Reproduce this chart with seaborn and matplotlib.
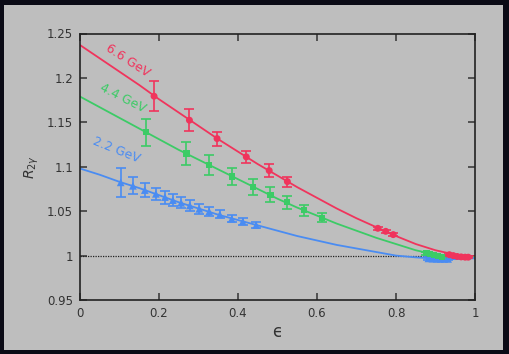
import numpy as np
import pandas as pd
import matplotlib
matplotlib.use("Agg")
import matplotlib.pyplot as plt
from matplotlib.patches import Rectangle
import seaborn as sns

# ---- data ----
eps_red = [0.1875, 0.277, 0.347, 0.421, 0.479, 0.525, 0.754, 0.774, 0.793,
           0.935, 0.945, 0.955, 0.965, 0.975, 0.983]
r_red = [1.1794, 1.1524, 1.1317, 1.1111, 1.0957, 1.0833, 1.0307, 1.0273, 1.0236,
         1.0010, 1.0000, 0.9990, 0.9985, 0.9982, 0.9982]
err_red = [0.0167, 0.0122, 0.0078, 0.0070, 0.0070, 0.0056, 0.0018, 0.0017, 0.0016,
           0.0012, 0.0012, 0.0012, 0.0012, 0.0012, 0.0012]

eps_green = [0.1664, 0.2694, 0.326, 0.384, 0.4375, 0.482, 0.5236, 0.5676, 0.612,
             0.877, 0.887, 0.897, 0.907, 0.917]
r_green = [1.1389, 1.1148, 1.1017, 1.0889, 1.0773, 1.0683, 1.0600, 1.0510, 1.0427,
           1.0025, 1.0015, 1.0005, 0.9995, 0.9988]
err_green = [0.0152, 0.0131, 0.0114, 0.0096, 0.0088, 0.0085, 0.0070, 0.0062, 0.0049,
             0.0014, 0.0014, 0.0014, 0.0014, 0.0014]

eps_blue = [0.103, 0.134, 0.164, 0.192, 0.215, 0.235, 0.256, 0.278, 0.302, 0.327,
            0.354, 0.384, 0.412, 0.446, 0.882, 0.892, 0.902, 0.912, 0.922, 0.932]
r_blue = [1.0824, 1.0785, 1.0737, 1.0695, 1.0658, 1.0624, 1.0594, 1.0564, 1.0526,
          1.0497, 1.0463, 1.0414, 1.0384, 1.0343, 0.9968, 0.9965, 0.9963, 0.9962,
          0.9962, 0.9962]
err_blue = [0.0165, 0.0095, 0.0083, 0.0064, 0.0072, 0.0065, 0.0062, 0.0058, 0.0054,
            0.0050, 0.0045, 0.0040, 0.0036, 0.0030, 0.0014, 0.0014, 0.0014, 0.0014,
            0.0014, 0.0014]

fit_eps = [0.0, 0.05, 0.1, 0.15, 0.2, 0.25, 0.3, 0.35, 0.4, 0.45, 0.5,
           0.55, 0.6, 0.65, 0.7, 0.75, 0.8, 0.85, 0.9, 0.95, 1.0]
fit_red = [1.237, 1.222, 1.207, 1.192, 1.176, 1.161, 1.146, 1.131, 1.117, 1.103, 1.090,
           1.077, 1.065, 1.053, 1.042, 1.032, 1.022, 1.013, 1.006, 1.001, 0.999]
fit_green = [1.179, 1.167, 1.155, 1.143, 1.131, 1.119, 1.108, 1.097, 1.086, 1.075, 1.064,
             1.054, 1.045, 1.036, 1.028, 1.020, 1.013, 1.006, 1.001, 0.998, 0.998]
fit_blue = [1.098, 1.091, 1.083, 1.076, 1.068, 1.060, 1.053, 1.046, 1.040, 1.034, 1.028,
            1.022, 1.017, 1.012, 1.008, 1.004, 1.000, 0.998, 0.9965, 0.996, 0.997]

labels = ["6.6 GeV", "4.4 GeV", "2.2 GeV"]
xticks = [0, 0.2, 0.4, 0.6, 0.8, 1]
xticklabels = ["0", "0.2", "0.4", "0.6", "0.8", "1"]
yticks = [0.95, 1.0, 1.05, 1.1, 1.15, 1.2, 1.25]
yticklabels = ["0.95", "1", "1.05", "1.1", "1.15", "1.2", "1.25"]

RED, GREEN, BLUE = "#f0345c", "#3ccb66", "#4a8cf2"
PANEL = "#bebebe"

sns.set_theme(style="ticks")
plt.rcParams["font.family"] = ["DejaVu Sans"]

W, H = 509, 354
fig = plt.figure(figsize=(W / 100, H / 100), dpi=100)
fig.patch.set_facecolor("#0b0b16")
fig.add_artist(Rectangle((4 / W, 1 - 350 / H), (503 - 4) / W, (350 - 5) / H,
                         transform=fig.transFigure, facecolor=PANEL,
                         edgecolor="none", zorder=0))

ax = fig.add_axes([80 / W, 54 / H, (475 - 80) / W, (300 - 33.5) / H])
ax.set_facecolor("none")

fits = pd.DataFrame({
    "eps": fit_eps * 3,
    "R": fit_red + fit_green + fit_blue,
    "beam": [labels[0]] * len(fit_eps) + [labels[1]] * len(fit_eps) + [labels[2]] * len(fit_eps),
})
sns.lineplot(data=fits, x="eps", y="R", hue="beam",
             palette={labels[0]: RED, labels[1]: GREEN, labels[2]: BLUE},
             linewidth=1.3, legend=False, ax=ax, zorder=2)

ax.axhline(1.0, color="#222222", linestyle=(0, (1, 1)), linewidth=0.9, zorder=1)

series = [
    (eps_blue, r_blue, err_blue, BLUE, "^", 5.5),
    (eps_green, r_green, err_green, GREEN, "s", 4.5),
    (eps_red, r_red, err_red, RED, "o", 5.0),
]
for ex, ry, er, c, m, ms in series:
    ax.errorbar(ex, ry, yerr=er, fmt="none", ecolor=c, elinewidth=1.2,
                capsize=3.5, capthick=1.2, zorder=3)
    df = pd.DataFrame({"eps": ex, "R": ry})
    sns.scatterplot(data=df, x="eps", y="R", color=c, marker=m, s=ms ** 2,
                    edgecolor="none", ax=ax, zorder=4)

ax.set_xlim(0, 1)
ax.set_ylim(0.95, 1.25)
ax.set_xticks(xticks)
ax.set_xticklabels(xticklabels)
ax.set_yticks(yticks)
ax.set_yticklabels(yticklabels)
ax.tick_params(direction="in", length=5, width=1.1, color="#333333",
               labelsize=8.5, labelcolor="#333333", top=True, right=True, pad=5)
for s in ax.spines.values():
    s.set_color("#222222")
    s.set_linewidth(1.2)

ax.set_xlabel("ϵ", fontsize=12, color="#333333", labelpad=2)
ax.set_ylabel(r"$R_{2\gamma}$", fontsize=10, color="#333333", labelpad=4)

ax.text(0.121, 1.220, labels[0], color=RED, fontsize=9, rotation=-33,
        ha="center", va="center")
ax.text(0.108, 1.177, labels[1], color=GREEN, fontsize=9, rotation=-27,
        ha="center", va="center")
ax.text(0.091, 1.119, labels[2], color=BLUE, fontsize=9, rotation=-22,
        ha="center", va="center")

fig.savefig("out.png", dpi=100, facecolor=fig.get_facecolor())
